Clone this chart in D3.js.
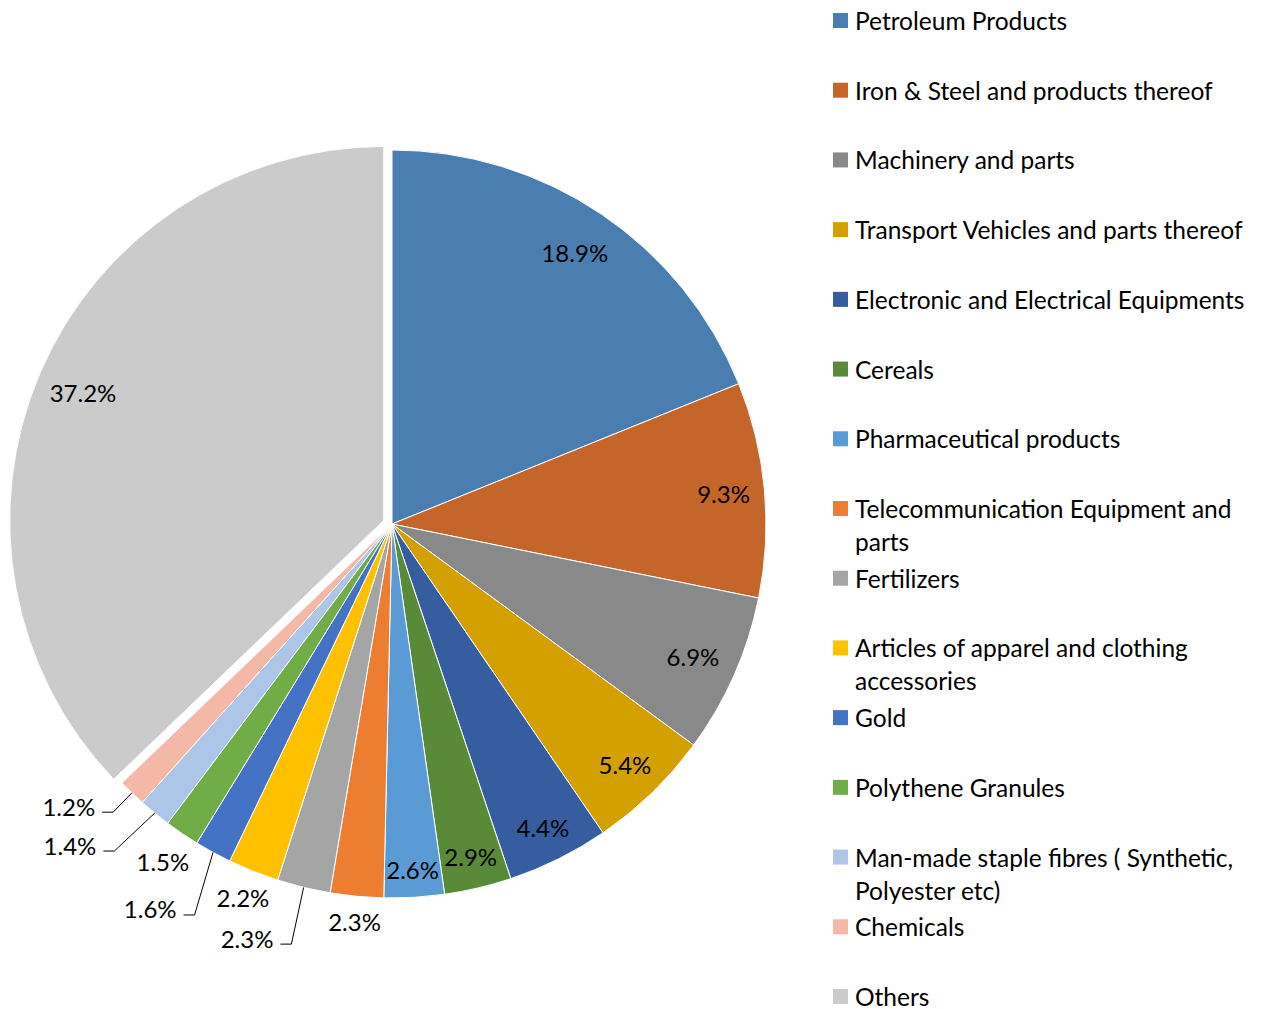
<!DOCTYPE html>
<html>
<head>
<meta charset="utf-8">
<script src="https://cdn.jsdelivr.net/npm/d3@7"></script>
<style>
  body { margin: 0; background: #fff; }
  text { font-family: Lato, "Liberation Sans", sans-serif; fill: #000; }
</style>
</head>
<body>
<div class="chart"></div>
<script>
// share of imports by commodity, percent
var categories = [
	"Petroleum Products",
	"Iron & Steel and products thereof",
	"Machinery and parts",
	"Transport Vehicles and parts thereof",
	"Electronic and Electrical Equipments",
	"Cereals",
	"Pharmaceutical products",
	"Telecommunication Equipment and parts",
	"Fertilizers",
	"Articles of apparel and clothing accessories",
	"Gold",
	"Polythene Granules",
	"Man-made staple fibres ( Synthetic, Polyester etc)",
	"Chemicals",
	"Others"
];
var values = [18.9, 9.3, 6.9, 5.4, 4.4, 2.9, 2.6, 2.3, 2.3, 2.2, 1.6, 1.5, 1.4, 1.2, 37.2];
var valueLabels = ["18.9%", "9.3%", "6.9%", "5.4%", "4.4%", "2.9%", "2.6%", "2.3%", "2.3%", "2.2%", "1.6%", "1.5%", "1.4%", "1.2%", "37.2%"];
var colors = ["#4A7EB0", "#C4652A", "#898989", "#D4A000", "#355DA0", "#588A38", "#5B9BD5",
	"#ED7D31", "#A5A5A5", "#FFC000", "#4472C4", "#70AD47", "#ADC5E7", "#F4B9A6", "#CBCBCB"];
// legend text as it wraps in the original
var legendLines = [
	["Petroleum Products"],
	["Iron & Steel and products thereof"],
	["Machinery and parts"],
	["Transport Vehicles and parts thereof"],
	["Electronic and Electrical Equipments"],
	["Cereals"],
	["Pharmaceutical products"],
	["Telecommunication Equipment and", "parts"],
	["Fertilizers"],
	["Articles of apparel and clothing", "accessories"],
	["Gold"],
	["Polythene Granules"],
	["Man-made staple fibres ( Synthetic,", "Polyester etc)"],
	["Chemicals"],
	["Others"]
];

var w = 1277, h = 1009;
var cx = 392, cy = 524, r = 374;
var explode = 9;

// label placement: inside, just outside, or outside with a leader line,
// the distance from the centre (for leaders: where the line bends)
// and a small angle nudge (degrees) for the bend
var labelMode = ["in", "in", "in", "in", "in", "in", "in", "out", "leader", "out", "leader", "out", "leader", "leader", "in"];
var labelDist = [327, 333, 329, 335, 339, 342, 346, 399, 432, 402, 438, 408, 429, 401, 327];
var bendNudge = [0, 0, 0, 0, 0, 0, 0, 0, -0.2, 0, -1.8, 0, 0.95, 0, 0];

var svg = d3.select(".chart").append("svg")
	.attr("width", w)
	.attr("height", h);

var pie = d3.pie().sort(null).value(function(d){ return d; });
var arcs = pie(values);
var arc = d3.arc().innerRadius(0).outerRadius(r);

var g = svg.append("g").attr("transform", "translate(" + cx + "," + cy + ")");

function mid(d){ return (d.startAngle + d.endAngle) / 2; }
function polar(a, rad){ return [Math.sin(a) * rad, -Math.cos(a) * rad]; }
function offsetOf(i, d){
	if (i !== values.length - 1) return [0, 0];
	return polar(mid(d), explode);
}

var slices = g.selectAll(".slice").data(arcs);
slices.enter()
	.append("path")
	.attr("class", "slice")
	.attr("d", arc)
	.attr("transform", function(d, i){ var o = offsetOf(i, d); return "translate(" + o[0] + "," + o[1] + ")"; })
	.style("fill", function(d, i){ return colors[i]; })
	.style("stroke", "#fff")
	.style("stroke-width", 1);

// data labels
arcs.forEach(function(d, i){
	var a = mid(d);
	var o = offsetOf(i, d);
	var mode = labelMode[i];
	if (mode === "leader") {
		var s = polar(a, r);
		var e = polar(a + bendNudge[i] * Math.PI / 180, labelDist[i]);
		var end = [e[0] - 11, e[1]];
		g.append("path")
			.attr("d", d3.line()([s, e, end]))
			.style("fill", "none")
			.style("stroke", "#000")
			.style("stroke-width", 1);
		g.append("text")
			.attr("x", end[0] - 7).attr("y", end[1] - 6)
			.attr("text-anchor", "end")
			.attr("dominant-baseline", "central")
			.style("font-size", "24px")
			.text(valueLabels[i]);
	} else {
		var p = polar(a, labelDist[i]);
		g.append("text")
			.attr("x", p[0] + o[0]).attr("y", p[1] + o[1])
			.attr("text-anchor", "middle")
			.attr("dominant-baseline", "central")
			.style("font-size", "24px")
			.text(valueLabels[i]);
	}
});

// legend
var legendY = d3.scaleLinear().domain([0, categories.length - 1]).range([20, 996]);
var legend = svg.selectAll(".legend").data(categories);
var items = legend.enter().append("g")
	.attr("class", "legend")
	.attr("transform", function(d, i){ return "translate(833," + legendY(i) + ")"; });

items.append("rect")
	.attr("x", 0).attr("y", -7)
	.attr("width", 15).attr("height", 15)
	.style("fill", function(d, i){ return colors[i]; });

items.each(function(d, i){
	var t = d3.select(this).append("text")
		.attr("x", 22).attr("y", 0)
		.attr("dominant-baseline", "central")
		.style("font-size", "24.5px");
	legendLines[i].forEach(function(line, k){
		t.append("tspan").attr("x", 22).attr("dy", k === 0 ? 0 : 33).text(line);
	});
});
</script>
</body>
</html>
